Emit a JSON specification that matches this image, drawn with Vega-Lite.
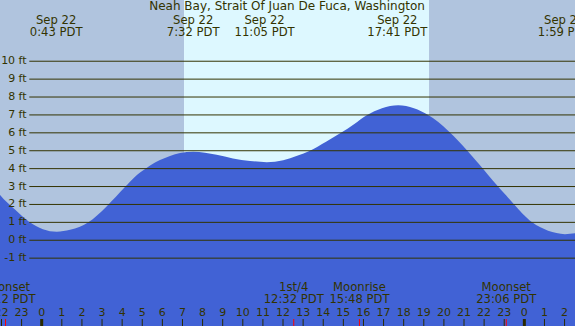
{
  "$schema": "https://vega.github.io/schema/vega-lite/v6.json",
  "width": 575,
  "height": 326,
  "padding": 0,
  "autosize": {"type": "none"},
  "config": {"view": {"stroke": null}, "text": {"font": "DejaVu Sans", "fontSize": 11, "color": "#333300"}},
  "datasets": {
    "bg": [
      {"start": -2.3, "end": 7.08, "kind": "night"},
      {"start": 7.08, "end": 19.26, "kind": "day"},
      {"start": 19.26, "end": 26.8, "kind": "night"}
    ],
    "tide": [
      {"t": -2.2, "v": 2.72}, {"t": -2.07, "v": 2.53}, {"t": -1.33, "v": 1.72}, {"t": -0.63, "v": 1.04},
      {"t": 0.06, "v": 0.62}, {"t": 0.75, "v": 0.48}, {"t": 1.41, "v": 0.58}, {"t": 1.9, "v": 0.76},
      {"t": 2.32, "v": 1.0}, {"t": 2.75, "v": 1.38}, {"t": 3.25, "v": 1.92}, {"t": 3.69, "v": 2.43},
      {"t": 4.14, "v": 2.97}, {"t": 4.64, "v": 3.55}, {"t": 5.14, "v": 3.98}, {"t": 5.39, "v": 4.17},
      {"t": 5.88, "v": 4.48}, {"t": 6.38, "v": 4.71}, {"t": 6.88, "v": 4.87}, {"t": 7.54, "v": 4.95},
      {"t": 8.12, "v": 4.89}, {"t": 8.7, "v": 4.77}, {"t": 9.51, "v": 4.57}, {"t": 10.36, "v": 4.43},
      {"t": 11.19, "v": 4.36}, {"t": 12.01, "v": 4.47}, {"t": 12.7, "v": 4.72}, {"t": 13.34, "v": 5.0},
      {"t": 14.14, "v": 5.5}, {"t": 14.88, "v": 6.0}, {"t": 15.53, "v": 6.48}, {"t": 16.16, "v": 6.98},
      {"t": 16.92, "v": 7.38}, {"t": 17.73, "v": 7.54}, {"t": 18.51, "v": 7.38}, {"t": 19.22, "v": 7.0},
      {"t": 19.72, "v": 6.6}, {"t": 20.22, "v": 6.1}, {"t": 20.72, "v": 5.55}, {"t": 21.21, "v": 4.95},
      {"t": 21.71, "v": 4.3}, {"t": 22.2, "v": 3.65}, {"t": 22.66, "v": 3.05}, {"t": 23.1, "v": 2.5},
      {"t": 23.45, "v": 2.05}, {"t": 23.9, "v": 1.5}, {"t": 24.37, "v": 1.02}, {"t": 24.8, "v": 0.72},
      {"t": 25.18, "v": 0.53}, {"t": 25.6, "v": 0.4}, {"t": 26.02, "v": 0.34}, {"t": 26.6, "v": 0.4}
    ],
    "levels": [
      {"lvl": -1, "lab": "-1 ft"}, {"lvl": 0, "lab": "0 ft"}, {"lvl": 1, "lab": "1 ft"}, {"lvl": 2, "lab": "2 ft"},
      {"lvl": 3, "lab": "3 ft"}, {"lvl": 4, "lab": "4 ft"}, {"lvl": 5, "lab": "5 ft"}, {"lvl": 6, "lab": "6 ft"},
      {"lvl": 7, "lab": "7 ft"}, {"lvl": 8, "lab": "8 ft"}, {"lvl": 9, "lab": "9 ft"}, {"lvl": 10, "lab": "10 ft"}
    ],
    "extremes": [
      {"t": 0.717, "d": "Sep 22", "tm": "0:43 PDT"},
      {"t": 7.533, "d": "Sep 22", "tm": "7:32 PDT"},
      {"t": 11.083, "d": "Sep 22", "tm": "11:05 PDT"},
      {"t": 17.683, "d": "Sep 22", "tm": "17:41 PDT"},
      {"t": 25.983, "d": "Sep 23", "tm": "1:59 PDT"}
    ],
    "moon": [
      {"t": -1.8, "a": "Moonset", "b": "22:12 PDT"},
      {"t": 12.533, "a": "1st/4", "b": "12:32 PDT"},
      {"t": 15.8, "a": "Moonrise", "b": "15:48 PDT"},
      {"t": 23.1, "a": "Moonset", "b": "23:06 PDT"}
    ],
    "hours": [
      {"h": -2, "lab": "22"}, {"h": -1, "lab": "23"}, {"h": 0, "lab": "0"}, {"h": 1, "lab": "1"},
      {"h": 2, "lab": "2"}, {"h": 3, "lab": "3"}, {"h": 4, "lab": "4"}, {"h": 5, "lab": "5"},
      {"h": 6, "lab": "6"}, {"h": 7, "lab": "7"}, {"h": 8, "lab": "8"}, {"h": 9, "lab": "9"},
      {"h": 10, "lab": "10"}, {"h": 11, "lab": "11"}, {"h": 12, "lab": "12"}, {"h": 13, "lab": "13"},
      {"h": 14, "lab": "14"}, {"h": 15, "lab": "15"}, {"h": 16, "lab": "16"}, {"h": 17, "lab": "17"},
      {"h": 18, "lab": "18"}, {"h": 19, "lab": "19"}, {"h": 20, "lab": "20"}, {"h": 21, "lab": "21"},
      {"h": 22, "lab": "22"}, {"h": 23, "lab": "23"}, {"h": 24, "lab": "0"}, {"h": 25, "lab": "1"},
      {"h": 26, "lab": "2"}
    ],
    "title": [{"t": 12.2, "txt": "Neah Bay, Strait Of Juan De Fuca, Washington"}]
  },
  "layer": [
    {
      "data": {"name": "bg"},
      "mark": {"type": "rect", "clip": true},
      "encoding": {
        "x": {"field": "start", "type": "quantitative", "scale": {"domain": [-2.074, 26.519], "nice": false, "zero": false}, "axis": null},
        "x2": {"field": "end"},
        "y": {"datum": 13.42, "type": "quantitative", "scale": {"domain": [-4.79, 13.42], "nice": false, "zero": false}, "axis": null},
        "y2": {"datum": -4.79},
        "color": {"field": "kind", "type": "nominal", "scale": {"domain": ["night", "day"], "range": ["#b0c4de", "#ddf8ff"]}, "legend": null}
      }
    },
    {
      "data": {"name": "tide"},
      "mark": {"type": "area", "clip": true, "color": "#4162d5", "interpolate": "monotone"},
      "encoding": {
        "x": {"field": "t", "type": "quantitative", "axis": null},
        "y": {"field": "v", "type": "quantitative", "axis": null},
        "y2": {"datum": -5}
      }
    },
    {
      "data": {"name": "levels"},
      "mark": {"type": "rule", "clip": true, "color": "#333300", "strokeWidth": 1},
      "encoding": {
        "x": {"datum": -0.617, "type": "quantitative", "axis": null},
        "x2": {"datum": 26.7},
        "y": {"field": "lvl", "type": "quantitative", "axis": null}
      }
    },
    {
      "data": {"name": "levels"},
      "mark": {"type": "text", "align": "right", "baseline": "middle"},
      "encoding": {
        "x": {"datum": -0.75, "type": "quantitative", "axis": null},
        "y": {"field": "lvl", "type": "quantitative", "axis": null},
        "text": {"field": "lab"}
      }
    },
    {
      "data": {"name": "title"},
      "mark": {"type": "text", "align": "center", "baseline": "alphabetic", "fontSize": 12},
      "encoding": {
        "x": {"field": "t", "type": "quantitative", "axis": null},
        "y": {"datum": 12.86, "type": "quantitative", "axis": null},
        "text": {"field": "txt"}
      }
    },
    {
      "data": {"name": "extremes"},
      "mark": {"type": "text", "align": "center", "baseline": "alphabetic", "fontSize": 11.6},
      "encoding": {
        "x": {"field": "t", "type": "quantitative", "axis": null},
        "y": {"datum": 12.08, "type": "quantitative", "axis": null},
        "text": {"field": "d"}
      }
    },
    {
      "data": {"name": "extremes"},
      "mark": {"type": "text", "align": "center", "baseline": "alphabetic", "fontSize": 11.6},
      "encoding": {
        "x": {"field": "t", "type": "quantitative", "axis": null},
        "y": {"datum": 11.43, "type": "quantitative", "axis": null},
        "text": {"field": "tm"}
      }
    },
    {
      "data": {"name": "moon"},
      "mark": {"type": "text", "align": "center", "baseline": "alphabetic", "fontSize": 11.6},
      "encoding": {
        "x": {"field": "t", "type": "quantitative", "axis": null},
        "y": {"datum": -2.83, "type": "quantitative", "axis": null},
        "text": {"field": "a"}
      }
    },
    {
      "data": {"name": "moon"},
      "mark": {"type": "text", "align": "center", "baseline": "alphabetic", "fontSize": 11.6},
      "encoding": {
        "x": {"field": "t", "type": "quantitative", "axis": null},
        "y": {"datum": -3.52, "type": "quantitative", "axis": null},
        "text": {"field": "b"}
      }
    },
    {
      "data": {"name": "hours"},
      "mark": {"type": "text", "align": "center", "baseline": "alphabetic"},
      "encoding": {
        "x": {"field": "h", "type": "quantitative", "axis": null},
        "y": {"datum": -4.21, "type": "quantitative", "axis": null},
        "text": {"field": "lab"}
      }
    },
    {
      "data": {"name": "hours"},
      "mark": {"type": "rule", "color": "#2a2a00"},
      "encoding": {
        "x": {"field": "h", "type": "quantitative", "axis": null},
        "y": {"datum": -4.40, "type": "quantitative", "axis": null},
        "y2": {"datum": -4.79},
        "strokeWidth": {"condition": {"test": "datum.h % 24 == 0", "value": 3}, "value": 1}
      }
    },
    {
      "data": {"name": "moon"},
      "mark": {"type": "rule", "color": "#ff0000", "strokeWidth": 1},
      "encoding": {
        "x": {"field": "t", "type": "quantitative", "axis": null},
        "y": {"datum": -4.40, "type": "quantitative", "axis": null},
        "y2": {"datum": -4.79}
      }
    }
  ]
}
